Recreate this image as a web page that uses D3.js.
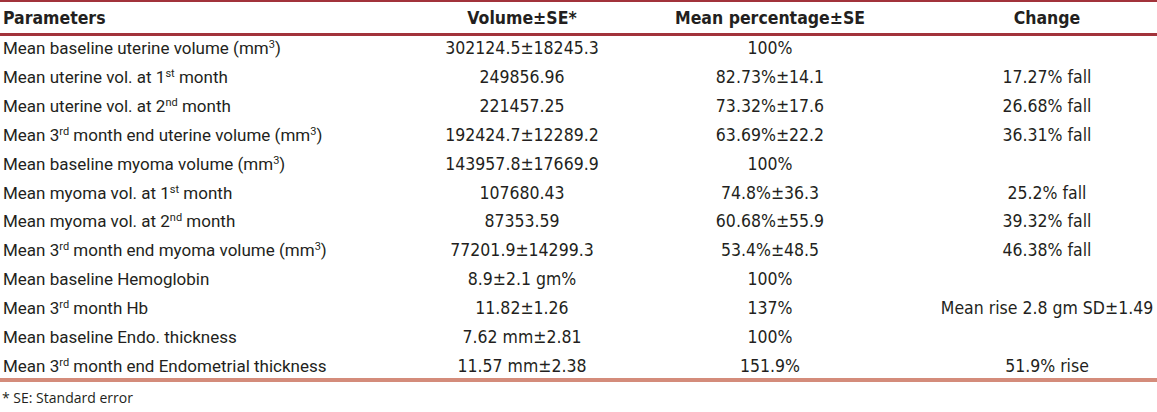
<!DOCTYPE html>
<html lang="en">
<head>
    <meta charset="UTF-8">
    <title>Volume table</title>
    <script src="https://d3js.org/d3.v7.min.js"></script>
    <style>
        body { margin: 0; background: #fff; }
        .label { font-family: Roboto, sans-serif; font-size: 17px; fill: #231f20; }
        .val { font-family: "Liberation Sans Narrow", "DejaVu Sans Condensed", sans-serif; font-size: 17.5px; fill: #231f20; }
        .head { font-family: "Liberation Sans Narrow", "DejaVu Sans Condensed", sans-serif; font-size: 17.5px; font-weight: bold; fill: #231f20; }
        .note { font-family: "Open Sans", sans-serif; font-size: 14px; fill: #231f20; }
    </style>
</head>
<body>
<svg width="1157" height="412"></svg>
<script>
    // column headers
    const headers = ["Parameters", "Volume\u00b1SE*", "Mean percentage\u00b1SE", "Change"];

    // row labels, ^x^ marks a superscript
    const params = [
        "Mean baseline uterine volume (mm^3^)",
        "Mean uterine vol. at 1^st^ month",
        "Mean uterine vol. at 2^nd^ month",
        "Mean 3^rd^ month end uterine volume (mm^3^)",
        "Mean baseline myoma volume (mm^3^)",
        "Mean myoma vol. at 1^st^ month",
        "Mean myoma vol. at 2^nd^ month",
        "Mean 3^rd^ month end myoma volume (mm^3^)",
        "Mean baseline Hemoglobin",
        "Mean 3^rd^ month Hb",
        "Mean baseline Endo. thickness",
        "Mean 3^rd^ month end Endometrial thickness"
    ];

    const volumes = [
        "302124.5\u00b118245.3", "249856.96", "221457.25", "192424.7\u00b112289.2",
        "143957.8\u00b117669.9", "107680.43", "87353.59", "77201.9\u00b114299.3",
        "8.9\u00b12.1 gm%", "11.82\u00b11.26", "7.62 mm\u00b12.81", "11.57 mm\u00b12.38"
    ];

    const percents = [
        "100%", "82.73%\u00b114.1", "73.32%\u00b117.6", "63.69%\u00b122.2",
        "100%", "74.8%\u00b136.3", "60.68%\u00b155.9", "53.4%\u00b148.5",
        "100%", "137%", "100%", "151.9%"
    ];

    const changes = [
        "", "17.27% fall", "26.68% fall", "36.31% fall",
        "", "25.2% fall", "39.32% fall", "46.38% fall",
        "", "Mean rise 2.8 gm SD\u00b11.49", "", "51.9% rise"
    ];

    const footnote = "* SE: Standard error";

    const W = 1157;
    const svg = d3.select("svg");

    // row scale
    const y = d3.scaleBand()
        .domain(d3.range(params.length))
        .range([34, 380])
        .paddingInner(0);

    // column centres for value columns
    const x = d3.scaleOrdinal()
        .domain([1, 2, 3])
        .range([522, 770, 1047]);

    // top rule
    svg.append("rect").attr("x", 0).attr("y", 0).attr("width", W).attr("height", 2).attr("fill", "#a2333b");
    // header rule
    svg.append("rect").attr("x", 0).attr("y", 33).attr("width", W).attr("height", 3).attr("fill", "#a2333b");
    // bottom rule
    svg.append("rect").attr("x", 0).attr("y", 378).attr("width", W).attr("height", 4).attr("fill", "#d48c7b");

    // header
    svg.append("g").selectAll("text")
        .data(headers)
        .join("text")
        .attr("class", "head")
        .attr("x", (d, i) => i === 0 ? 3 : x(i))
        .attr("y", 24)
        .attr("text-anchor", (d, i) => i === 0 ? "start" : "middle")
        .text(d => d);

    // parameter labels with superscripts
    const labels = svg.append("g").selectAll("text")
        .data(params)
        .join("text")
        .attr("class", "label")
        .attr("x", 3)
        .attr("y", (d, i) => y(i) + y.bandwidth() / 2 + 6);

    labels.each(function (d) {
        const t = d3.select(this);
        d.split("^").forEach((part, k) => {
            if (!part) return;
            const s = t.append("tspan").text(part);
            if (k % 2 === 1) s.attr("font-size", "11px").attr("dy", "-6");
            else if (k > 0) s.attr("dy", "6");
        });
    });

    // value columns
    [volumes, percents, changes].forEach((col, c) => {
        svg.append("g").selectAll("text")
            .data(col)
            .join("text")
            .attr("class", "val")
            .attr("x", x(c + 1))
            .attr("y", (d, i) => y(i) + y.bandwidth() / 2 + 6)
            .attr("text-anchor", "middle")
            .text(d => d);
    });

    // footnote
    svg.append("text")
        .attr("class", "note")
        .attr("x", 2)
        .attr("y", 403)
        .text(footnote);
</script>
</body>
</html>
